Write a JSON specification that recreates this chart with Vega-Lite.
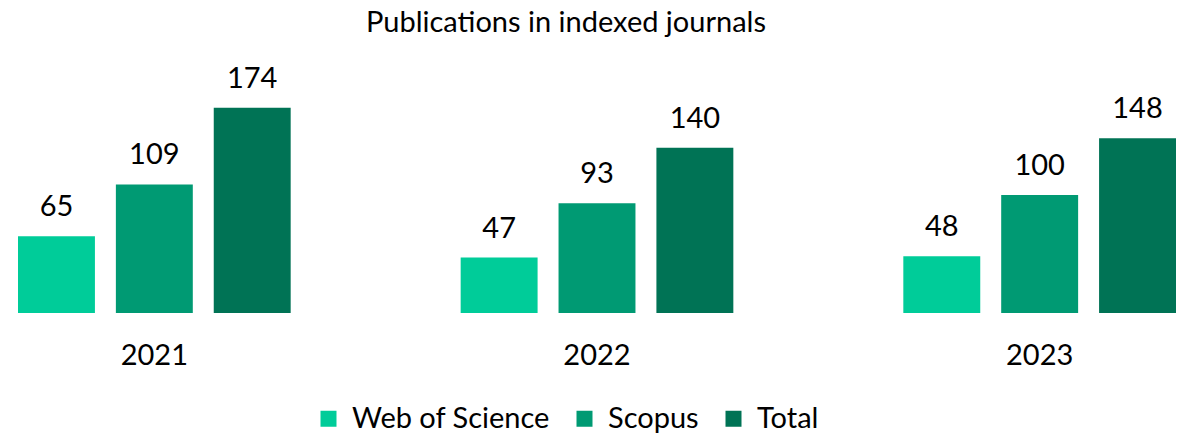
{
  "$schema": "https://vega.github.io/schema/vega-lite/v6.json",
  "width": 1158,
  "height": 253,
  "padding": {"left": 18, "top": 60, "right": 13, "bottom": 123},
  "autosize": {"type": "none"},
  "background": "white",
  "title": {
    "text": "Publications in indexed journals",
    "font": "Lato",
    "fontSize": 29,
    "fontWeight": "normal",
    "color": "#000000",
    "dx": -31,
    "offset": 22
  },
  "config": {
    "view": {"stroke": null},
    "font": "Lato"
  },
  "data": {
    "values": [
      {"year": "2021", "source": "Web of Science", "value": 65},
      {"year": "2021", "source": "Scopus", "value": 109},
      {"year": "2021", "source": "Total", "value": 174},
      {"year": "2022", "source": "Web of Science", "value": 47},
      {"year": "2022", "source": "Scopus", "value": 93},
      {"year": "2022", "source": "Total", "value": 140},
      {"year": "2023", "source": "Web of Science", "value": 48},
      {"year": "2023", "source": "Scopus", "value": 100},
      {"year": "2023", "source": "Total", "value": 148}
    ]
  },
  "encoding": {
    "x": {
      "field": "year",
      "type": "nominal",
      "scale": {"paddingInner": 0.384, "paddingOuter": 0},
      "axis": {
        "title": null,
        "labelAngle": 0,
        "labelFont": "Lato",
        "labelFontSize": 29,
        "labelColor": "#000000",
        "labelPadding": 28,
        "ticks": false,
        "domain": false,
        "grid": false
      }
    },
    "xOffset": {
      "field": "source",
      "type": "nominal",
      "sort": ["Web of Science", "Scopus", "Total"],
      "scale": {"paddingInner": 0.214, "paddingOuter": 0}
    },
    "y": {
      "field": "value",
      "type": "quantitative",
      "scale": {"domain": [0, 214.4]},
      "axis": null
    }
  },
  "layer": [
    {
      "mark": {"type": "bar"},
      "encoding": {
        "color": {
          "field": "source",
          "type": "nominal",
          "sort": ["Web of Science", "Scopus", "Total"],
          "scale": {
            "domain": ["Web of Science", "Scopus", "Total"],
            "range": ["#00CC99", "#009A73", "#007355"]
          },
          "legend": {
            "title": null,
            "orient": "none",
            "legendX": 296,
            "legendY": 344,
            "direction": "horizontal",
            "symbolType": "square",
            "symbolSize": 256,
            "symbolStrokeWidth": 0,
            "labelFont": "Lato",
            "labelFontSize": 29,
            "labelColor": "#000000",
            "labelOffset": 9,
            "labelLimit": 400,
            "columnPadding": 20
          }
        }
      }
    },
    {
      "mark": {
        "type": "text",
        "baseline": "alphabetic",
        "dy": -20,
        "font": "Lato",
        "fontSize": 29,
        "color": "#000000"
      },
      "encoding": {
        "text": {"field": "value", "type": "quantitative"}
      }
    }
  ]
}
